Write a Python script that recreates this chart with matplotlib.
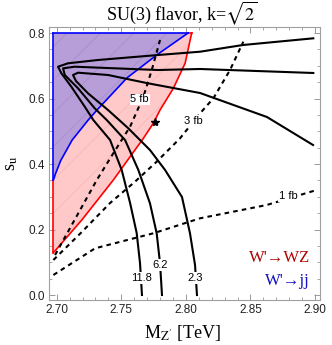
import matplotlib
matplotlib.use('Agg')
import matplotlib.pyplot as plt
from matplotlib.ticker import MultipleLocator

plt.rcParams['mathtext.fontset'] = 'stix'
plt.rcParams['hatch.linewidth'] = 0.6

# ---- data ----
# exclusion boundaries
red_x = [2.6974, 2.7194, 2.7438, 2.7671, 2.7748, 2.7800, 2.7903, 2.7994, 2.8045]
red_y = [0.1292, 0.2290, 0.3511, 0.4785, 0.5243, 0.5649, 0.6311, 0.7075, 0.8000]
blue_x = [2.6974, 2.6990, 2.7030, 2.7119, 2.7243, 2.7312, 2.7544, 2.7774, 2.8017]
blue_y = [0.3511, 0.3700, 0.4100, 0.4730, 0.5340, 0.5650, 0.6630, 0.7328, 0.8000]

# solid contours (labels 11.8, 6.2, 2.3)
c118_x = [2.7660, 2.7645, 2.7619, 2.7568, 2.7503, 2.7413, 2.7283, 2.7217, 2.7113, 2.7036,
          2.7010, 2.7087, 2.7320, 2.7784, 2.8110, 2.8443, 2.8987]
c118_y = [0.0000, 0.0968, 0.1893, 0.2809, 0.3817, 0.4733, 0.5344, 0.5750, 0.6360, 0.6769,
          0.6971, 0.7075, 0.7176, 0.7328, 0.7429, 0.7634, 0.7838]
c62_x = [2.7815, 2.7800, 2.7774, 2.7722, 2.7632, 2.7529, 2.7387, 2.7294, 2.7165, 2.7062,
         2.7049, 2.7139, 2.7449, 2.7784, 2.8110, 2.8987]
c62_y = [0.0000, 0.0968, 0.1884, 0.2800, 0.3817, 0.4733, 0.5344, 0.5701, 0.6311, 0.6718,
         0.6922, 0.6971, 0.6922, 0.6870, 0.6901, 0.6779]
c23_x = [2.8086, 2.8071, 2.8032, 2.7970, 2.7839, 2.7722, 2.7552, 2.7397, 2.7242, 2.7149,
         2.7126, 2.7165, 2.7397, 2.7707, 2.8110, 2.8628, 2.8985]
c23_y = [0.0000, 0.0916, 0.1884, 0.2992, 0.3817, 0.4427, 0.5099, 0.5649, 0.6159, 0.6534,
         0.6718, 0.6788, 0.6718, 0.6464, 0.6168, 0.5435, 0.4580]
contour_labels = ['11.8', '6.2', '2.3']
contour_label_x = [2.7658, 2.7800, 2.8071]
contour_label_y = [0.0519, 0.0916, 0.0519]

# dashed cross-section contours
fb5_x = [2.6987, 2.7142, 2.7310, 2.7438, 2.7568, 2.7671, 2.7736, 2.7800]
fb5_y = [0.1221, 0.2321, 0.3511, 0.4327, 0.5139, 0.6055, 0.6870, 0.7786]
fb3_x = [2.6974, 2.7194, 2.7413, 2.7606, 2.7774, 2.7955, 2.8110, 2.8213, 2.8342, 2.8445]
fb3_y = [0.1069, 0.1924, 0.2809, 0.3460, 0.4071, 0.4785, 0.5548, 0.6006, 0.6870, 0.7735]
fb1_x = [2.6974, 2.7297, 2.7748, 2.8110, 2.8626, 2.9013]
fb1_y = [0.0611, 0.1426, 0.1884, 0.2342, 0.2748, 0.3206]
fb_labels = ['5 fb', '3 fb', '1 fb']
fb_label_x = [2.7642, 2.8057, 2.8793]
fb_label_y = [0.5975, 0.5322, 0.3023]

star_x = [2.7761]
star_y = [0.5292]

x_ticks = [2.70, 2.75, 2.80, 2.85, 2.90]
y_ticks = [0.0, 0.2, 0.4, 0.6, 0.8]

# ---- figure ----
fig = plt.figure(figsize=(3.32, 3.45), dpi=100)
ax = fig.add_axes([0.1476, 0.1304, 0.8163, 0.7913])

pink = '#FFC9C9'
purple = '#B89ED8'
ax.fill(red_x + [red_x[0]], red_y + [red_y[-1]], facecolor=pink, edgecolor='none', zorder=1)
ax.fill(red_x + [red_x[0]], red_y + [red_y[-1]], facecolor='none', edgecolor='#F7B7B7',
        hatch='/', linewidth=0, zorder=1.1)
ax.fill(blue_x + [blue_x[0]], blue_y + [blue_y[-1]], facecolor=purple, edgecolor='none', zorder=1.2)
ax.fill(blue_x + [blue_x[0]], blue_y + [blue_y[-1]], facecolor='none', edgecolor='#A98DCB',
        hatch='/', linewidth=0, zorder=1.3)

lw_b = 1.2
ax.plot(red_x, red_y, color='#FF0000', lw=lw_b, zorder=2)
ax.plot([red_x[0], red_x[0]], [red_y[0], blue_y[0]], color='#FF0000', lw=lw_b, zorder=2)
ax.plot([blue_x[-1], red_x[-1]], [0.8, 0.8], color='#FF0000', lw=lw_b, zorder=2)
ax.plot(blue_x, blue_y, color='#0000FF', lw=lw_b, zorder=2.1)
ax.plot([blue_x[0], blue_x[0]], [blue_y[0], 0.8], color='#0000FF', lw=lw_b, zorder=2.1)
ax.plot([blue_x[0], blue_x[-1]], [0.8, 0.8], color='#0000FF', lw=lw_b, zorder=2.1)

for xs, ys in [(c118_x, c118_y), (c62_x, c62_y), (c23_x, c23_y)]:
    ax.plot(xs, ys, color='black', lw=1.5, solid_joinstyle='round', zorder=3)
for xs, ys in [(fb5_x, fb5_y), (fb3_x, fb3_y), (fb1_x, fb1_y)]:
    ax.plot(xs, ys, color='black', lw=1.5, ls=(0, (2.2, 2.0)), zorder=3)

bbox = dict(facecolor='white', edgecolor='none', pad=0.6)
for t, x, y in zip(contour_labels, contour_label_x, contour_label_y):
    ax.text(x, y, t, ha='center', va='center', fontsize=8, family='Liberation Sans',
            bbox=bbox, zorder=4)
for t, x, y in zip(fb_labels, fb_label_x, fb_label_y):
    ax.text(x, y, t, ha='center', va='center', fontsize=8, family='Liberation Sans',
            bbox=bbox, zorder=4)

ax.plot(star_x, star_y, marker='*', color='black', ms=6, ls='none', zorder=5)

ax.text(2.8961, 0.113, "W'→WZ", ha='right', va='center', fontsize=12, color='#B00000',
        family=['Liberation Serif', 'DejaVu Serif'], zorder=5)
ax.text(2.8961, 0.043, "W'→jj", ha='right', va='center', fontsize=12, color='#1010C0',
        family=['Liberation Serif', 'DejaVu Serif'], zorder=5)

ax.set_xlim(2.6940, 2.9039)
ax.set_ylim(-0.0153, 0.8183)
ax.set_xticks(x_ticks)
ax.set_yticks(y_ticks)
ax.set_xticklabels(['%.2f' % v for v in x_ticks])
ax.set_yticklabels(['%.1f' % v for v in y_ticks])
ax.xaxis.set_minor_locator(MultipleLocator(0.01))
ax.yaxis.set_minor_locator(MultipleLocator(0.05))
ax.tick_params(which='both', direction='in', top=True, right=True, color='#999999',
               labelsize=8.5, labelcolor='#222222', pad=3)
ax.tick_params(which='major', length=4, width=0.7)
ax.tick_params(which='minor', length=2.5, width=0.6)
for lab in ax.get_xticklabels() + ax.get_yticklabels():
    lab.set_family('Liberation Sans')
for s in ax.spines.values():
    s.set_color('#A0A0A0')
    s.set_linewidth(0.8)

fig.text(0.548, 0.962, r'SU(3) flavor, k=$\sqrt{2}$', ha='center', va='center',
         fontsize=13, family='Liberation Serif')
fig.text(0.551, 0.035, r"M$_{\mathrm{Z'}}$ [TeV]", ha='center', va='center',
         fontsize=13, family='Liberation Serif')
fig.text(0.036, 0.527, r's$_{\mathrm{u}}$', ha='center', va='center', rotation=90,
         fontsize=13, family='Liberation Serif')

fig.savefig('out.png', dpi=100)
